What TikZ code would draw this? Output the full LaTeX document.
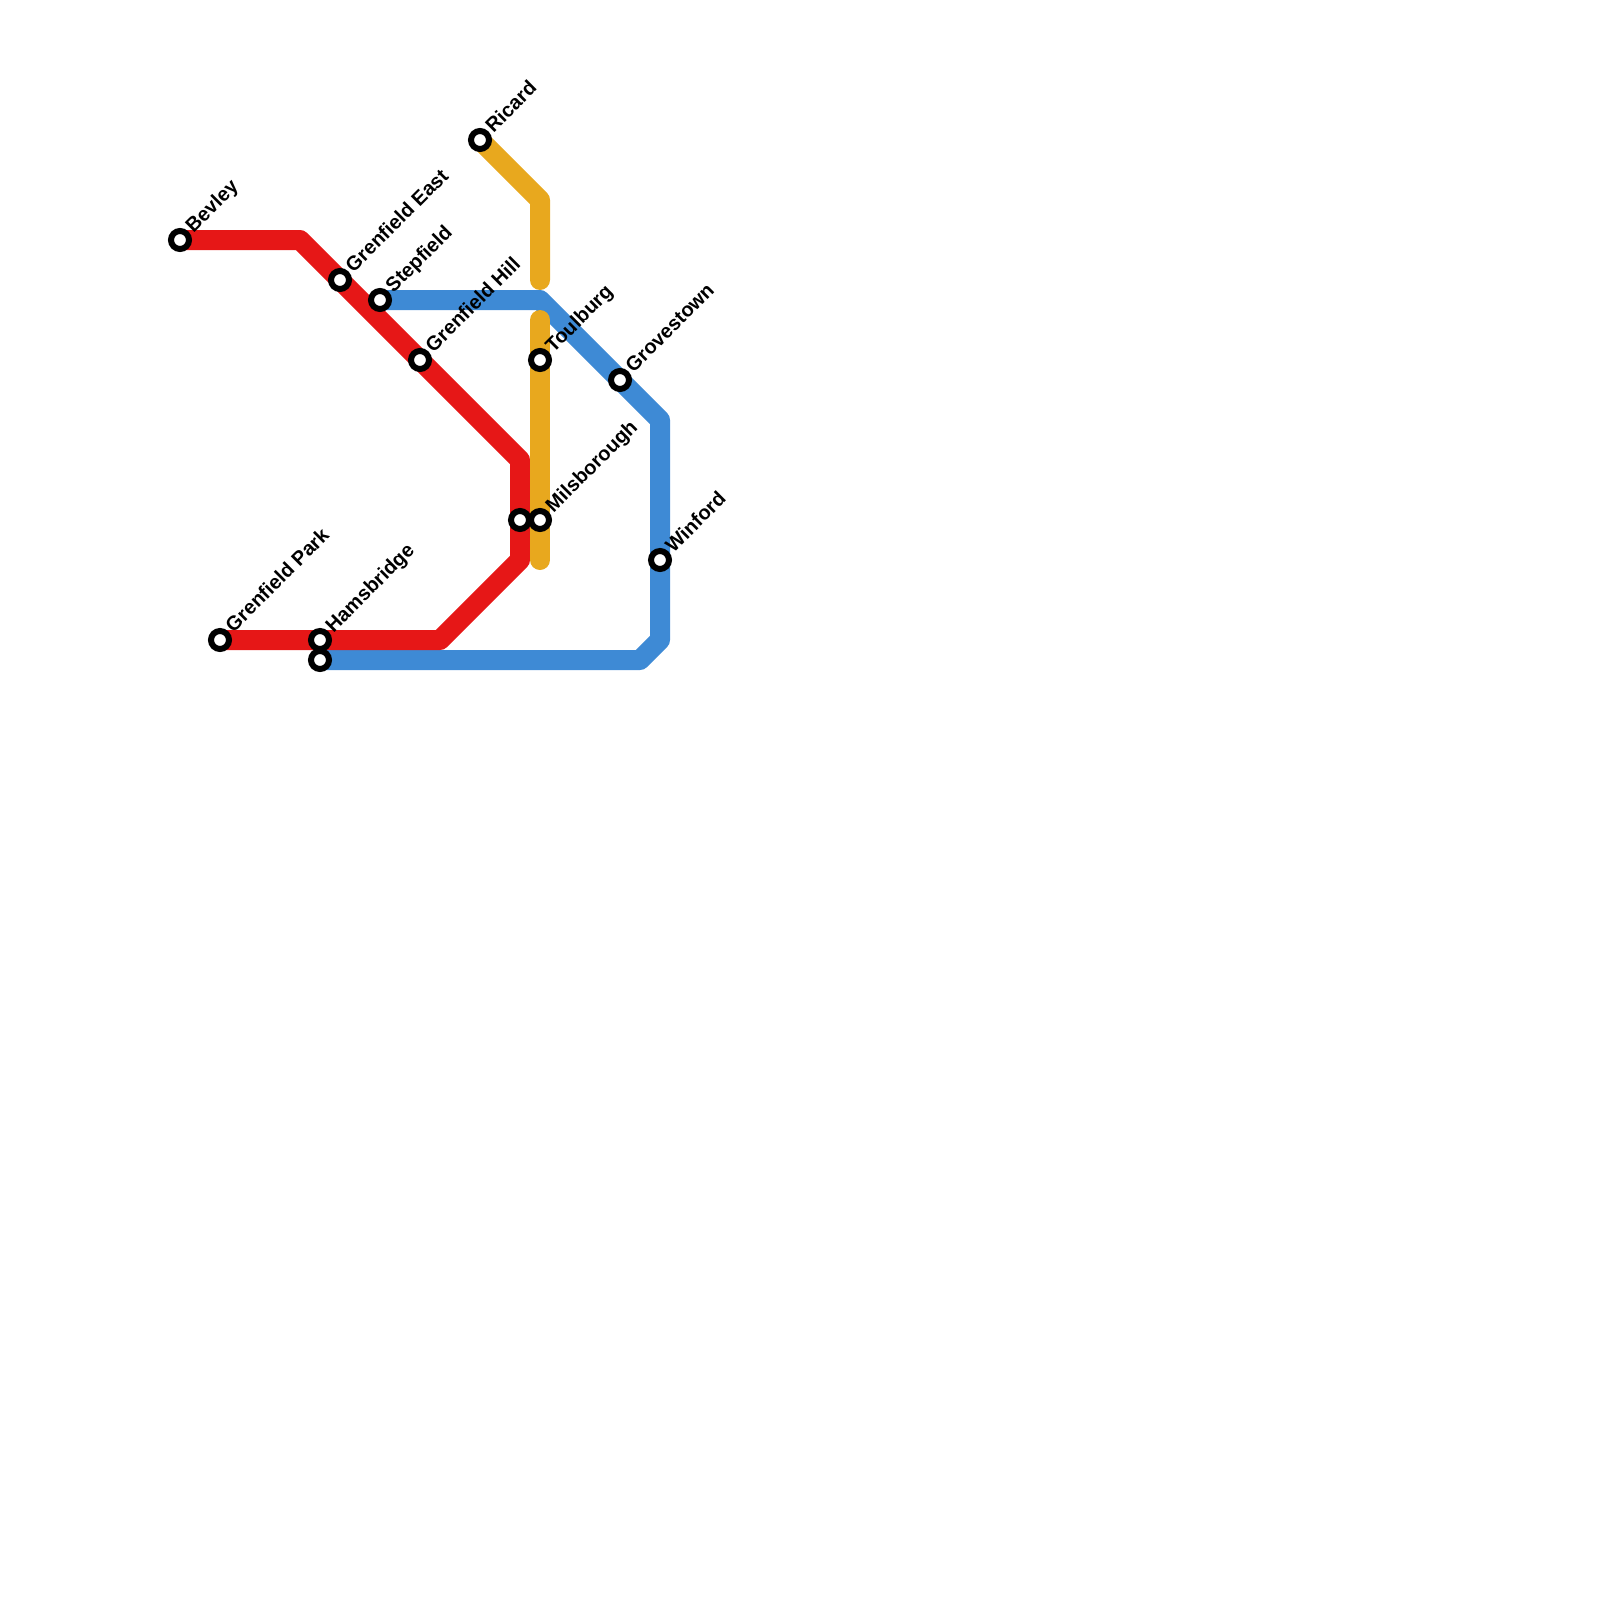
\documentclass[tikz,border=0pt]{standalone}
\usepackage{fontspec}
\setmainfont{Liberation Sans}
\definecolor{linered}{HTML}{E61717}
\definecolor{lineblue}{HTML}{3E8AD5}
\definecolor{linegold}{HTML}{E8A81E}
\tikzset{
  metro/.style={line width=20pt,line join=round,line cap=round},
  stationdot/.style={circle,draw=black,fill=white,line width=6pt,minimum size=18pt,inner sep=0pt},
  stationlabel/.style={rotate=45,anchor=base west,inner sep=0pt,font=\bfseries\fontsize{20}{24}\selectfont,text=black}
}
\begin{document}
\begin{tikzpicture}[x=1pt,y=-1pt]
\useasboundingbox (0,0) rectangle (1600,1600);
% bends
\coordinate (r1) at (300,240);
\coordinate (r2) at (520,460);
\coordinate (r3) at (520,560);
\coordinate (r4) at (440,640);
\coordinate (b1) at (540,300);
\coordinate (b2) at (660,420);
\coordinate (b3) at (660,640);
\coordinate (b4) at (640,660);
\coordinate (g1) at (540,200);
\coordinate (g2) at (540,280);
\coordinate (g3) at (540,320);
\coordinate (g4) at (540,560);
% station positions
\coordinate (sBev) at (180,240);
\coordinate (sGE) at (340,280);
\coordinate (sSte) at (380,300);
\coordinate (sGH) at (420,360);
\coordinate (sRic) at (480,140);
\coordinate (sTou) at (540,360);
\coordinate (sGro) at (620,380);
\coordinate (sMil) at (540,520);
\coordinate (sRed) at (520,520);
\coordinate (sWin) at (660,560);
\coordinate (sGP) at (220,640);
\coordinate (sHam) at (320,640);
\coordinate (sBlu) at (320,660);
% lines
\draw[metro,lineblue] (sSte) -- (b1) -- (b2) -- (b3) -- (b4) -- (sBlu);
\draw[metro,linered] (sBev) -- (r1) -- (r2) -- (r3) -- (r4) -- (sGP);
\draw[metro,linegold] (sRic) -- (g1) -- (g2);
\draw[metro,linegold] (g3) -- (g4);
% stations
\foreach \s in {sBev,sGE,sSte,sGH,sRic,sTou,sGro,sMil,sRed,sWin,sGP,sHam,sBlu}
  \node[stationdot] (n\s) at (\s) {};
% labels
\node[stationlabel] (lBev) at ([xshift=13.5,yshift=6.5]sBev) {Bevley};
\node[stationlabel] (lGE) at ([xshift=13.5,yshift=6.5]sGE) {Grenfield East};
\node[stationlabel] (lSte) at ([xshift=13.5,yshift=6.5]sSte) {Stepfield};
\node[stationlabel] (lGH) at ([xshift=13.5,yshift=6.5]sGH) {Grenfield Hill};
\node[stationlabel] (lRic) at ([xshift=13.5,yshift=6.5]sRic) {Ricard};
\node[stationlabel] (lTou) at ([xshift=13.5,yshift=6.5]sTou) {Toulburg};
\node[stationlabel] (lGro) at ([xshift=13.5,yshift=6.5]sGro) {Grovestown};
\node[stationlabel] (lMil) at ([xshift=13.5,yshift=6.5]sMil) {Milsborough};
\node[stationlabel] (lWin) at ([xshift=13.5,yshift=6.5]sWin) {Winford};
\node[stationlabel] (lGP) at ([xshift=13.5,yshift=6.5]sGP) {Grenfield Park};
\node[stationlabel] (lHam) at ([xshift=13.5,yshift=6.5]sHam) {Hamsbridge};
\end{tikzpicture}
\end{document}
